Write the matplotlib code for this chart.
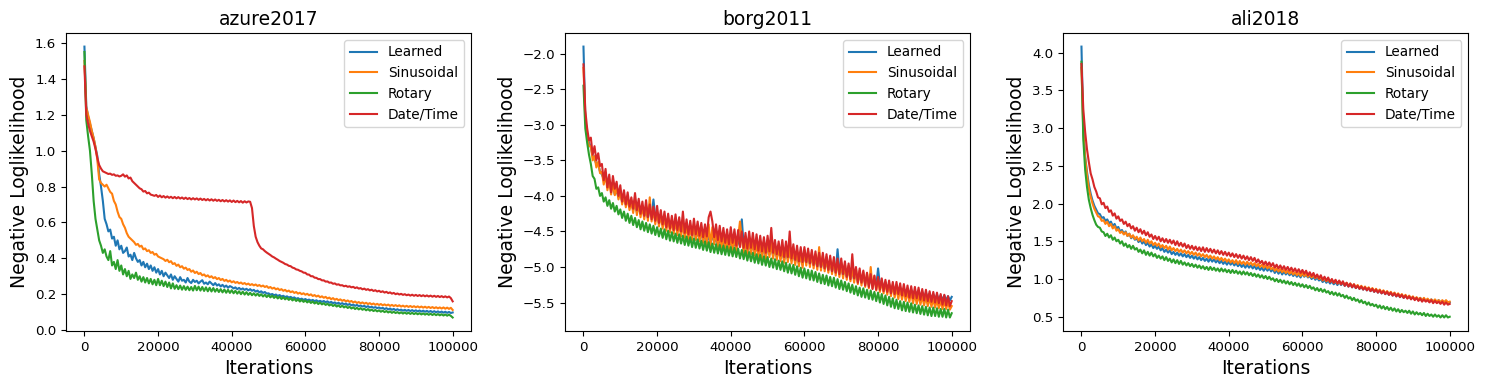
"""Training curves (negative log-likelihood) for the four position encodings on three traces."""

from __future__ import annotations

import matplotlib

matplotlib.use("Agg")  # headless

import matplotlib.pyplot as plt  # noqa: E402
import numpy as np  # noqa: E402

# evaluation every 500 iterations, 0 .. 100000
iters = np.arange(0, 100001, 500)

labels = ["Learned", "Sinusoidal", "Rotary", "Date/Time"]
colors = ["#1f77b4", "#ff7f0e", "#2ca02c", "#d62728"]
titles = ["azure2017", "borg2011", "ali2018"]

# --- azure2017 -------------------------------------------------------------
az_learned = [
    1.58, 1.25, 1.19, 1.15, 1.11, 1.07, 1.02, 0.97, 0.87, 0.80,
    0.72, 0.62, 0.59, 0.55, 0.56, 0.51, 0.52, 0.47, 0.50, 0.45,
    0.47, 0.43, 0.44, 0.46, 0.41, 0.42, 0.39, 0.43, 0.40, 0.38,
    0.39, 0.36, 0.38, 0.35, 0.37, 0.34, 0.36, 0.33, 0.35, 0.32,
    0.34, 0.31, 0.33, 0.30, 0.32, 0.305, 0.29, 0.31, 0.28, 0.30,
    0.285, 0.27, 0.295, 0.275, 0.28, 0.265, 0.29, 0.27, 0.262, 0.28,
    0.268, 0.275, 0.26, 0.27, 0.278, 0.258, 0.265, 0.255, 0.27, 0.26,
    0.25, 0.262, 0.248, 0.255, 0.243, 0.252, 0.24, 0.248, 0.236, 0.245,
    0.24, 0.232, 0.238, 0.228, 0.235, 0.226, 0.232, 0.224, 0.23, 0.221,
    0.228, 0.219, 0.224, 0.214, 0.22, 0.21, 0.216, 0.207, 0.212, 0.203,
    0.205, 0.197, 0.201, 0.194, 0.198, 0.19, 0.195, 0.187, 0.191, 0.184,
    0.188, 0.181, 0.185, 0.178, 0.182, 0.174, 0.178, 0.171, 0.175, 0.168,
    0.173, 0.166, 0.17, 0.164, 0.168, 0.161, 0.166, 0.159, 0.163, 0.157,
    0.162, 0.155, 0.16, 0.152, 0.157, 0.15, 0.154, 0.147, 0.152, 0.145,
    0.15, 0.143, 0.148, 0.14, 0.145, 0.138, 0.142, 0.135, 0.14, 0.133,
    0.137, 0.131, 0.135, 0.128, 0.133, 0.126, 0.13, 0.124, 0.128, 0.122,
    0.126, 0.12, 0.124, 0.117, 0.122, 0.115, 0.12, 0.113, 0.118, 0.111,
    0.116, 0.11, 0.114, 0.108, 0.113, 0.107, 0.112, 0.106, 0.111, 0.105,
    0.11, 0.104, 0.109, 0.103, 0.108, 0.102, 0.107, 0.101, 0.106, 0.1,
    0.105, 0.099, 0.104, 0.098, 0.103, 0.097, 0.102, 0.096, 0.101, 0.095,
    0.098,
]
az_sinusoidal = [
    1.50, 1.24, 1.20, 1.16, 1.11, 1.07, 1.02, 0.95, 0.84, 0.82,
    0.81, 0.80, 0.81, 0.79, 0.77, 0.76, 0.72, 0.70, 0.66, 0.63,
    0.62, 0.59, 0.57, 0.54, 0.52, 0.51, 0.50, 0.49, 0.475, 0.48,
    0.465, 0.47, 0.45, 0.455, 0.44, 0.445, 0.43, 0.435, 0.42, 0.425,
    0.41, 0.405, 0.40, 0.395, 0.385, 0.392, 0.378, 0.384, 0.368, 0.373,
    0.358, 0.365, 0.35, 0.356, 0.342, 0.348, 0.335, 0.34, 0.325, 0.332,
    0.318, 0.325, 0.312, 0.318, 0.305, 0.31, 0.299, 0.305, 0.294, 0.3,
    0.289, 0.295, 0.284, 0.29, 0.279, 0.285, 0.274, 0.28, 0.27, 0.276,
    0.266, 0.272, 0.263, 0.268, 0.26, 0.265, 0.257, 0.262, 0.254, 0.259,
    0.251, 0.256, 0.249, 0.254, 0.246, 0.251, 0.243, 0.248, 0.24, 0.245,
    0.235, 0.24, 0.231, 0.236, 0.227, 0.232, 0.223, 0.228, 0.219, 0.224,
    0.215, 0.22, 0.211, 0.216, 0.207, 0.212, 0.203, 0.208, 0.2, 0.205,
    0.197, 0.202, 0.194, 0.199, 0.19, 0.195, 0.187, 0.192, 0.183, 0.188,
    0.18, 0.185, 0.176, 0.181, 0.172, 0.178, 0.169, 0.174, 0.166, 0.171,
    0.163, 0.168, 0.16, 0.165, 0.157, 0.162, 0.154, 0.159, 0.151, 0.156,
    0.149, 0.154, 0.147, 0.152, 0.145, 0.15, 0.143, 0.148, 0.141, 0.146,
    0.14, 0.145, 0.138, 0.143, 0.137, 0.142, 0.135, 0.14, 0.134, 0.139,
    0.133, 0.138, 0.131, 0.136, 0.13, 0.135, 0.129, 0.134, 0.128, 0.133,
    0.127, 0.132, 0.126, 0.131, 0.125, 0.13, 0.124, 0.129, 0.123, 0.128,
    0.122, 0.127, 0.121, 0.126, 0.12, 0.126, 0.119, 0.125, 0.118, 0.124,
    0.112,
]
az_rotary = [
    1.55, 1.17, 1.08, 1.00, 0.87, 0.72, 0.62, 0.56, 0.50, 0.47,
    0.43, 0.45, 0.41, 0.39, 0.44, 0.36, 0.38, 0.34, 0.39, 0.33,
    0.36, 0.31, 0.34, 0.30, 0.33, 0.285, 0.31, 0.29, 0.32, 0.28,
    0.30, 0.27, 0.295, 0.265, 0.29, 0.26, 0.285, 0.255, 0.28, 0.25,
    0.285, 0.25, 0.275, 0.245, 0.27, 0.24, 0.265, 0.232, 0.26, 0.23,
    0.25, 0.228, 0.248, 0.225, 0.245, 0.224, 0.242, 0.222, 0.24, 0.22,
    0.246, 0.222, 0.242, 0.22, 0.24, 0.218, 0.238, 0.216, 0.236, 0.215,
    0.234, 0.214, 0.23, 0.212, 0.228, 0.21, 0.226, 0.208, 0.224, 0.207,
    0.222, 0.205, 0.219, 0.203, 0.216, 0.2, 0.214, 0.198, 0.211, 0.196,
    0.208, 0.194, 0.205, 0.192, 0.203, 0.19, 0.2, 0.187, 0.197, 0.184,
    0.195, 0.182, 0.192, 0.179, 0.189, 0.176, 0.186, 0.173, 0.183, 0.171,
    0.18, 0.168, 0.177, 0.165, 0.174, 0.162, 0.171, 0.159, 0.168, 0.157,
    0.165, 0.154, 0.162, 0.151, 0.159, 0.148, 0.156, 0.145, 0.153, 0.143,
    0.15, 0.14, 0.147, 0.137, 0.144, 0.134, 0.141, 0.131, 0.138, 0.128,
    0.136, 0.126, 0.133, 0.123, 0.13, 0.12, 0.127, 0.117, 0.124, 0.115,
    0.122, 0.113, 0.119, 0.11, 0.117, 0.108, 0.114, 0.106, 0.112, 0.104,
    0.11, 0.102, 0.108, 0.1, 0.106, 0.098, 0.104, 0.096, 0.102, 0.095,
    0.1, 0.093, 0.099, 0.092, 0.098, 0.091, 0.097, 0.09, 0.096, 0.089,
    0.095, 0.088, 0.094, 0.087, 0.093, 0.086, 0.092, 0.085, 0.091, 0.084,
    0.09, 0.083, 0.089, 0.082, 0.088, 0.081, 0.087, 0.08, 0.086, 0.079,
    0.07,
]
az_datetime = [
    1.47, 1.20, 1.15, 1.11, 1.08, 1.05, 1.01, 0.96, 0.92, 0.90,
    0.885, 0.88, 0.875, 0.87, 0.872, 0.865, 0.868, 0.86, 0.862, 0.856,
    0.86, 0.868, 0.855, 0.862, 0.845, 0.85, 0.83, 0.82, 0.81, 0.80,
    0.79, 0.785, 0.772, 0.775, 0.762, 0.766, 0.755, 0.752, 0.748, 0.753,
    0.742, 0.75, 0.74, 0.747, 0.738, 0.745, 0.737, 0.743, 0.735, 0.742,
    0.734, 0.741, 0.733, 0.739, 0.731, 0.738, 0.73, 0.736, 0.728, 0.735,
    0.728, 0.734, 0.726, 0.733, 0.725, 0.731, 0.723, 0.73, 0.722, 0.729,
    0.721, 0.728, 0.72, 0.726, 0.718, 0.725, 0.717, 0.724, 0.716, 0.723,
    0.714, 0.722, 0.713, 0.72, 0.712, 0.719, 0.71, 0.718, 0.711, 0.717,
    0.715, 0.68, 0.58, 0.52, 0.49, 0.47, 0.455, 0.45, 0.44, 0.432,
    0.425, 0.418, 0.41, 0.405, 0.398, 0.392, 0.385, 0.38, 0.375, 0.368,
    0.365, 0.358, 0.356, 0.348, 0.345, 0.338, 0.336, 0.33, 0.327, 0.32,
    0.319, 0.31, 0.309, 0.3, 0.3, 0.292, 0.291, 0.284, 0.284, 0.277,
    0.277, 0.27, 0.271, 0.264, 0.265, 0.258, 0.26, 0.253, 0.255, 0.249,
    0.25, 0.244, 0.247, 0.241, 0.244, 0.238, 0.241, 0.234, 0.238, 0.231,
    0.234, 0.227, 0.231, 0.224, 0.228, 0.221, 0.225, 0.218, 0.222, 0.215,
    0.219, 0.212, 0.216, 0.209, 0.213, 0.206, 0.21, 0.203, 0.207, 0.2,
    0.204, 0.198, 0.202, 0.196, 0.2, 0.194, 0.198, 0.192, 0.197, 0.191,
    0.196, 0.19, 0.195, 0.189, 0.194, 0.188, 0.193, 0.187, 0.192, 0.186,
    0.191, 0.185, 0.19, 0.184, 0.189, 0.183, 0.188, 0.182, 0.187, 0.178,
    0.16,
]

# --- borg2011 --------------------------------------------------------------
bg_learned = [
    -1.90, -2.90, -3.15, -3.25, -3.32, -3.44, -3.48, -3.55, -3.55, -3.66,
    -3.70, -3.76, -3.68, -3.84, -3.84, -3.90, -3.86, -3.98, -3.92, -4.02,
    -3.96, -4.08, -4.02, -4.12, -4.04, -4.16, -4.08, -4.20, -4.10, -4.23,
    -4.14, -4.26, -4.16, -4.28, -4.20, -4.31, -4.18, -4.29, -4.05, -4.30,
    -4.26, -4.38, -4.28, -4.40, -4.31, -4.43, -4.33, -4.45, -4.36, -4.48,
    -4.38, -4.50, -4.40, -4.52, -4.42, -4.54, -4.44, -4.56, -4.46, -4.58,
    -4.43, -4.60, -4.48, -4.62, -4.50, -4.64, -4.52, -4.66, -4.54, -4.68,
    -4.52, -4.66, -4.58, -4.70, -4.60, -4.72, -4.62, -4.74, -4.64, -4.76,
    -4.60, -4.74, -4.62, -4.76, -4.64, -4.68, -4.33, -4.70, -4.68, -4.80,
    -4.66, -4.78, -4.68, -4.80, -4.70, -4.82, -4.72, -4.84, -4.70, -4.86,
    -4.70, -4.82, -4.72, -4.84, -4.74, -4.86, -4.76, -4.88, -4.78, -4.90,
    -4.77, -4.89, -4.79, -4.91, -4.81, -4.93, -4.83, -4.95, -4.85, -4.97,
    -4.82, -4.94, -4.84, -4.96, -4.86, -4.98, -4.88, -5.00, -4.86, -5.01,
    -4.90, -5.02, -4.92, -5.04, -4.94, -5.06, -4.96, -5.08, -4.75, -5.06,
    -5.00, -5.12, -5.02, -5.14, -5.04, -5.16, -5.06, -5.18, -5.08, -5.20,
    -5.10, -5.21, -5.12, -5.23, -5.14, -5.25, -5.16, -5.26, -5.18, -5.27,
    -5.02, -5.25, -5.20, -5.29, -5.22, -5.31, -5.24, -5.33, -5.26, -5.35,
    -5.27, -5.36, -5.29, -5.37, -5.30, -5.38, -5.31, -5.39, -5.32, -5.40,
    -5.33, -5.41, -5.34, -5.42, -5.35, -5.43, -5.36, -5.44, -5.37, -5.45,
    -5.38, -5.45, -5.39, -5.46, -5.40, -5.46, -5.40, -5.47, -5.41, -5.47,
    -5.42,
]
bg_sinusoidal = [
    -2.20, -2.92, -3.15, -3.30, -3.30, -3.50, -3.44, -3.60, -3.52, -3.68,
    -3.66, -3.84, -3.70, -3.92, -3.78, -3.98, -3.82, -3.99, -3.88, -4.05,
    -3.93, -4.12, -3.99, -4.16, -4.02, -4.20, -4.08, -4.24, -4.04, -4.27,
    -4.10, -4.30, -4.14, -4.33, -4.14, -4.35, -4.02, -4.36, -4.20, -4.40,
    -4.22, -4.43, -4.26, -4.46, -4.29, -4.49, -4.31, -4.51, -4.34, -4.53,
    -4.34, -4.55, -4.37, -4.57, -4.39, -4.59, -4.41, -4.61, -4.42, -4.62,
    -4.40, -4.62, -4.44, -4.64, -4.46, -4.66, -4.48, -4.68, -4.40, -4.70,
    -4.44, -4.68, -4.50, -4.72, -4.52, -4.74, -4.54, -4.76, -4.56, -4.78,
    -4.54, -4.76, -4.56, -4.78, -4.58, -4.36, -4.60, -4.80, -4.62, -4.82,
    -4.60, -4.82, -4.62, -4.84, -4.64, -4.86, -4.66, -4.88, -4.64, -4.90,
    -4.64, -4.86, -4.66, -4.88, -4.68, -4.90, -4.70, -4.92, -4.72, -4.94,
    -4.71, -4.93, -4.73, -4.95, -4.75, -4.97, -4.77, -4.99, -4.79, -5.01,
    -4.76, -4.98, -4.78, -5.00, -4.80, -5.02, -4.82, -5.04, -4.72, -5.05,
    -4.84, -5.06, -4.86, -5.08, -4.88, -5.10, -4.90, -5.12, -4.92, -5.14,
    -4.94, -5.16, -4.96, -5.18, -4.98, -5.20, -5.00, -5.22, -5.02, -5.24,
    -5.05, -5.26, -5.07, -5.28, -5.09, -5.30, -5.00, -5.30, -5.13, -5.33,
    -5.17, -5.35, -5.19, -5.37, -5.21, -5.39, -5.23, -5.41, -5.25, -5.43,
    -5.28, -5.45, -5.30, -5.46, -5.32, -5.48, -5.34, -5.49, -5.35, -5.51,
    -5.38, -5.52, -5.39, -5.53, -5.41, -5.54, -5.42, -5.55, -5.43, -5.56,
    -5.45, -5.57, -5.46, -5.58, -5.47, -5.59, -5.48, -5.59, -5.49, -5.60,
    -5.55,
]
bg_rotary = [
    -2.45, -3.05, -3.25, -3.42, -3.55, -3.72, -3.76, -3.90, -3.88, -4.00,
    -3.96, -4.08, -4.02, -4.14, -4.06, -4.18, -4.10, -4.22, -4.14, -4.26,
    -4.19, -4.31, -4.22, -4.35, -4.25, -4.38, -4.28, -4.41, -4.31, -4.44,
    -4.34, -4.47, -4.36, -4.49, -4.38, -4.51, -4.40, -4.53, -4.42, -4.55,
    -4.44, -4.57, -4.46, -4.59, -4.47, -4.61, -4.49, -4.63, -4.51, -4.64,
    -4.53, -4.66, -4.54, -4.67, -4.56, -4.69, -4.57, -4.70, -4.58, -4.72,
    -4.60, -4.73, -4.61, -4.74, -4.63, -4.76, -4.64, -4.77, -4.65, -4.79,
    -4.67, -4.80, -4.68, -4.81, -4.69, -4.82, -4.70, -4.83, -4.71, -4.84,
    -4.72, -4.85, -4.73, -4.86, -4.74, -4.88, -4.76, -4.89, -4.77, -4.91,
    -4.79, -4.92, -4.80, -4.94, -4.82, -4.95, -4.83, -4.97, -4.85, -4.98,
    -4.86, -5.00, -4.88, -5.01, -4.89, -5.03, -4.91, -5.04, -4.92, -5.06,
    -4.94, -5.08, -4.96, -5.09, -4.97, -5.11, -4.99, -5.13, -5.01, -5.15,
    -5.02, -5.16, -5.04, -5.18, -5.05, -5.19, -5.07, -5.21, -5.09, -5.23,
    -5.11, -5.24, -5.12, -5.26, -5.14, -5.27, -5.15, -5.29, -5.17, -5.31,
    -5.19, -5.32, -5.21, -5.34, -5.23, -5.36, -5.25, -5.38, -5.27, -5.40,
    -5.29, -5.42, -5.30, -5.43, -5.32, -5.45, -5.33, -5.46, -5.35, -5.48,
    -5.36, -5.50, -5.38, -5.52, -5.40, -5.54, -5.42, -5.56, -5.44, -5.58,
    -5.46, -5.59, -5.48, -5.61, -5.49, -5.62, -5.50, -5.63, -5.51, -5.64,
    -5.53, -5.65, -5.54, -5.66, -5.55, -5.67, -5.56, -5.68, -5.57, -5.69,
    -5.57, -5.69, -5.58, -5.70, -5.59, -5.70, -5.59, -5.71, -5.60, -5.71,
    -5.65,
]
bg_datetime = [
    -2.15, -2.80, -3.05, -3.22, -3.18, -3.42, -3.30, -3.50, -3.40, -3.58,
    -3.55, -3.78, -3.62, -3.88, -3.70, -3.95, -3.72, -3.90, -3.80, -4.00,
    -3.85, -4.08, -3.92, -4.12, -3.95, -4.15, -4.02, -4.18, -3.96, -4.20,
    -4.04, -4.25, -4.08, -4.28, -4.06, -4.30, -4.12, -4.33, -4.15, -4.35,
    -4.14, -4.38, -4.20, -4.40, -4.22, -4.44, -4.25, -4.46, -4.28, -4.48,
    -4.26, -4.48, -4.30, -4.50, -4.22, -4.52, -4.33, -4.54, -4.35, -4.55,
    -4.32, -4.54, -4.36, -4.56, -4.38, -4.58, -4.40, -4.57, -4.30, -4.22,
    -4.36, -4.58, -4.40, -4.62, -4.42, -4.64, -4.45, -4.66, -4.47, -4.68,
    -4.44, -4.66, -4.47, -4.70, -4.48, -4.72, -4.50, -4.73, -4.52, -4.74,
    -4.50, -4.73, -4.52, -4.75, -4.54, -4.77, -4.56, -4.78, -4.58, -4.80,
    -4.56, -4.78, -4.45, -4.80, -4.62, -4.82, -4.64, -4.84, -4.62, -4.86,
    -4.64, -4.86, -4.50, -4.88, -4.68, -4.90, -4.70, -4.92, -4.72, -4.93,
    -4.72, -4.93, -4.74, -4.95, -4.76, -4.97, -4.78, -4.99, -4.80, -5.00,
    -4.80, -5.02, -4.82, -5.04, -4.84, -5.06, -4.86, -5.08, -4.88, -5.10,
    -4.88, -5.10, -4.92, -5.14, -4.95, -5.17, -4.82, -5.16, -5.00, -5.22,
    -5.02, -5.22, -5.05, -5.26, -5.08, -5.28, -5.10, -5.31, -5.12, -5.32,
    -5.14, -5.32, -5.16, -5.34, -5.18, -5.35, -5.19, -5.37, -5.21, -5.38,
    -5.21, -5.38, -5.23, -5.40, -5.24, -5.41, -5.26, -5.43, -5.27, -5.44,
    -5.28, -5.44, -5.29, -5.46, -5.31, -5.47, -5.32, -5.48, -5.34, -5.49,
    -5.35, -5.50, -5.36, -5.51, -5.38, -5.53, -5.39, -5.54, -5.41, -5.55,
    -5.48,
]

# --- ali2018 ---------------------------------------------------------------
al_learned = [
    4.08, 3.00, 2.62, 2.42, 2.25, 2.13, 2.04, 1.97, 1.92, 1.87,
    1.86, 1.81, 1.82, 1.77, 1.79, 1.74, 1.76, 1.70, 1.73, 1.67,
    1.69, 1.63, 1.65, 1.60, 1.63, 1.57, 1.60, 1.54, 1.57, 1.52,
    1.54, 1.49, 1.52, 1.47, 1.50, 1.45, 1.48, 1.43, 1.46, 1.41,
    1.44, 1.40, 1.43, 1.38, 1.41, 1.36, 1.39, 1.35, 1.38, 1.33,
    1.36, 1.32, 1.35, 1.31, 1.34, 1.30, 1.33, 1.29, 1.32, 1.28,
    1.31, 1.27, 1.30, 1.26, 1.29, 1.25, 1.28, 1.24, 1.27, 1.23,
    1.27, 1.23, 1.26, 1.22, 1.25, 1.21, 1.24, 1.20, 1.23, 1.19,
    1.23, 1.19, 1.22, 1.18, 1.21, 1.17, 1.20, 1.16, 1.19, 1.15,
    1.19, 1.15, 1.18, 1.14, 1.17, 1.13, 1.16, 1.12, 1.15, 1.11,
    1.15, 1.11, 1.14, 1.10, 1.13, 1.08, 1.12, 1.07, 1.11, 1.06,
    1.10, 1.06, 1.09, 1.05, 1.08, 1.04, 1.07, 1.03, 1.06, 1.02,
    1.07, 1.03, 1.06, 1.02, 1.04, 1.00, 1.03, 0.99, 1.02, 0.98,
    1.00, 0.96, 0.99, 0.95, 0.98, 0.94, 0.97, 0.93, 0.96, 0.92,
    0.96, 0.92, 0.95, 0.91, 0.94, 0.90, 0.93, 0.89, 0.92, 0.88,
    0.91, 0.87, 0.90, 0.86, 0.89, 0.85, 0.88, 0.84, 0.87, 0.83,
    0.86, 0.82, 0.85, 0.81, 0.84, 0.80, 0.83, 0.79, 0.82, 0.78,
    0.81, 0.77, 0.80, 0.76, 0.79, 0.75, 0.78, 0.75, 0.77, 0.74,
    0.76, 0.73, 0.75, 0.72, 0.75, 0.71, 0.74, 0.71, 0.73, 0.70,
    0.73, 0.70, 0.72, 0.69, 0.72, 0.69, 0.71, 0.69, 0.71, 0.68,
    0.69,
]
al_sinusoidal = [
    3.80, 2.95, 2.60, 2.38, 2.20, 2.09, 2.00, 1.93, 1.88, 1.83,
    1.82, 1.77, 1.78, 1.73, 1.76, 1.70, 1.73, 1.67, 1.70, 1.64,
    1.66, 1.61, 1.63, 1.59, 1.62, 1.57, 1.60, 1.55, 1.58, 1.53,
    1.56, 1.51, 1.55, 1.50, 1.53, 1.48, 1.52, 1.47, 1.50, 1.45,
    1.48, 1.44, 1.47, 1.42, 1.45, 1.41, 1.44, 1.39, 1.43, 1.38,
    1.41, 1.37, 1.40, 1.36, 1.39, 1.35, 1.38, 1.34, 1.37, 1.33,
    1.36, 1.32, 1.35, 1.31, 1.34, 1.30, 1.33, 1.29, 1.32, 1.28,
    1.31, 1.27, 1.30, 1.26, 1.29, 1.25, 1.28, 1.24, 1.27, 1.23,
    1.26, 1.22, 1.25, 1.21, 1.25, 1.20, 1.24, 1.20, 1.23, 1.19,
    1.23, 1.19, 1.22, 1.18, 1.21, 1.17, 1.20, 1.16, 1.19, 1.15,
    1.18, 1.14, 1.17, 1.13, 1.15, 1.11, 1.14, 1.10, 1.13, 1.09,
    1.12, 1.08, 1.11, 1.07, 1.10, 1.06, 1.09, 1.05, 1.08, 1.04,
    1.08, 1.04, 1.07, 1.03, 1.06, 1.02, 1.05, 1.01, 1.04, 1.00,
    1.02, 0.98, 1.01, 0.97, 1.00, 0.96, 0.99, 0.95, 0.98, 0.94,
    0.97, 0.93, 0.96, 0.92, 0.95, 0.91, 0.94, 0.90, 0.93, 0.89,
    0.92, 0.88, 0.91, 0.87, 0.90, 0.86, 0.89, 0.85, 0.88, 0.84,
    0.87, 0.83, 0.86, 0.82, 0.85, 0.81, 0.84, 0.80, 0.83, 0.79,
    0.82, 0.78, 0.81, 0.77, 0.80, 0.76, 0.79, 0.75, 0.78, 0.74,
    0.77, 0.73, 0.76, 0.73, 0.75, 0.72, 0.75, 0.71, 0.74, 0.71,
    0.73, 0.70, 0.73, 0.70, 0.72, 0.69, 0.72, 0.69, 0.72, 0.69,
    0.70,
]
al_rotary = [
    3.88, 2.85, 2.45, 2.22, 2.05, 1.94, 1.85, 1.78, 1.72, 1.69,
    1.68, 1.63, 1.62, 1.57, 1.60, 1.55, 1.58, 1.52, 1.55, 1.50,
    1.52, 1.47, 1.50, 1.44, 1.47, 1.42, 1.45, 1.40, 1.44, 1.39,
    1.41, 1.36, 1.39, 1.34, 1.38, 1.32, 1.36, 1.31, 1.35, 1.30,
    1.33, 1.28, 1.31, 1.27, 1.30, 1.25, 1.29, 1.24, 1.27, 1.22,
    1.26, 1.21, 1.25, 1.20, 1.24, 1.19, 1.22, 1.18, 1.21, 1.17,
    1.20, 1.16, 1.19, 1.15, 1.18, 1.14, 1.17, 1.13, 1.16, 1.12,
    1.16, 1.12, 1.15, 1.11, 1.14, 1.10, 1.14, 1.10, 1.13, 1.09,
    1.12, 1.08, 1.12, 1.08, 1.11, 1.07, 1.10, 1.06, 1.10, 1.06,
    1.09, 1.05, 1.08, 1.04, 1.07, 1.03, 1.06, 1.02, 1.05, 1.01,
    1.04, 1.00, 1.03, 0.99, 1.01, 0.97, 1.00, 0.96, 0.99, 0.95,
    0.98, 0.94, 0.97, 0.93, 0.96, 0.92, 0.95, 0.91, 0.94, 0.90,
    0.93, 0.89, 0.92, 0.88, 0.91, 0.87, 0.89, 0.85, 0.88, 0.84,
    0.87, 0.83, 0.86, 0.82, 0.84, 0.80, 0.83, 0.79, 0.82, 0.78,
    0.81, 0.77, 0.79, 0.75, 0.78, 0.74, 0.76, 0.72, 0.75, 0.71,
    0.73, 0.69, 0.72, 0.68, 0.70, 0.66, 0.69, 0.65, 0.67, 0.64,
    0.66, 0.62, 0.65, 0.61, 0.64, 0.60, 0.63, 0.59, 0.62, 0.58,
    0.61, 0.57, 0.60, 0.56, 0.59, 0.56, 0.58, 0.55, 0.58, 0.54,
    0.57, 0.53, 0.56, 0.53, 0.55, 0.52, 0.55, 0.51, 0.54, 0.51,
    0.53, 0.50, 0.53, 0.50, 0.52, 0.49, 0.52, 0.49, 0.52, 0.49,
    0.50,
]
al_datetime = [
    3.85, 3.25, 2.95, 2.72, 2.55, 2.40, 2.32, 2.22, 2.16, 2.08,
    2.07, 1.99, 2.01, 1.94, 1.96, 1.89, 1.91, 1.84, 1.87, 1.80,
    1.83, 1.77, 1.79, 1.73, 1.76, 1.70, 1.73, 1.67, 1.70, 1.64,
    1.68, 1.62, 1.66, 1.60, 1.64, 1.58, 1.62, 1.56, 1.59, 1.53,
    1.57, 1.52, 1.56, 1.50, 1.54, 1.49, 1.53, 1.48, 1.52, 1.47,
    1.51, 1.45, 1.50, 1.44, 1.48, 1.43, 1.47, 1.41, 1.45, 1.40,
    1.44, 1.39, 1.43, 1.38, 1.42, 1.37, 1.42, 1.36, 1.41, 1.36,
    1.40, 1.35, 1.39, 1.34, 1.38, 1.33, 1.37, 1.32, 1.36, 1.31,
    1.35, 1.30, 1.34, 1.29, 1.33, 1.28, 1.32, 1.27, 1.31, 1.26,
    1.30, 1.25, 1.29, 1.24, 1.28, 1.22, 1.26, 1.21, 1.24, 1.19,
    1.23, 1.18, 1.22, 1.17, 1.21, 1.15, 1.19, 1.14, 1.18, 1.13,
    1.17, 1.12, 1.16, 1.11, 1.15, 1.10, 1.14, 1.09, 1.13, 1.08,
    1.12, 1.07, 1.11, 1.05, 1.09, 1.04, 1.08, 1.02, 1.06, 1.01,
    1.05, 0.99, 1.03, 0.98, 1.02, 0.96, 1.00, 0.95, 0.99, 0.94,
    0.98, 0.93, 0.97, 0.91, 0.95, 0.90, 0.94, 0.89, 0.93, 0.88,
    0.91, 0.87, 0.90, 0.86, 0.89, 0.85, 0.88, 0.84, 0.87, 0.83,
    0.86, 0.82, 0.85, 0.81, 0.84, 0.80, 0.83, 0.79, 0.82, 0.78,
    0.81, 0.77, 0.80, 0.76, 0.79, 0.75, 0.78, 0.74, 0.77, 0.73,
    0.76, 0.72, 0.75, 0.71, 0.74, 0.70, 0.73, 0.70, 0.72, 0.69,
    0.72, 0.68, 0.71, 0.68, 0.70, 0.67, 0.70, 0.66, 0.69, 0.66,
    0.67,
]

panels = [
    [az_learned, az_sinusoidal, az_rotary, az_datetime],
    [bg_learned, bg_sinusoidal, bg_rotary, bg_datetime],
    [al_learned, al_sinusoidal, al_rotary, al_datetime],
]


def main() -> None:
    fig = plt.figure(figsize=(14.87, 3.89), dpi=100)
    lefts = [0.0444, 0.380, 0.7149]
    for left, title, series in zip(lefts, titles, panels):
        ax = fig.add_axes([left, 0.149, 0.2724, 0.766])
        for ys, label, color in zip(series, labels, colors):
            ax.plot(iters, ys, color=color, linewidth=1.5, label=label)
        ax.set_title(title, fontsize=13.5)
        ax.set_xlabel("Iterations", fontsize=13.5)
        ax.set_ylabel("Negative Loglikelihood", fontsize=13.5)
        ax.tick_params(labelsize=9.6)
        ax.legend(loc="upper right", fontsize=9.8)
    fig.savefig("out.png", dpi=100)
    plt.close(fig)


if __name__ == "__main__":
    main()
